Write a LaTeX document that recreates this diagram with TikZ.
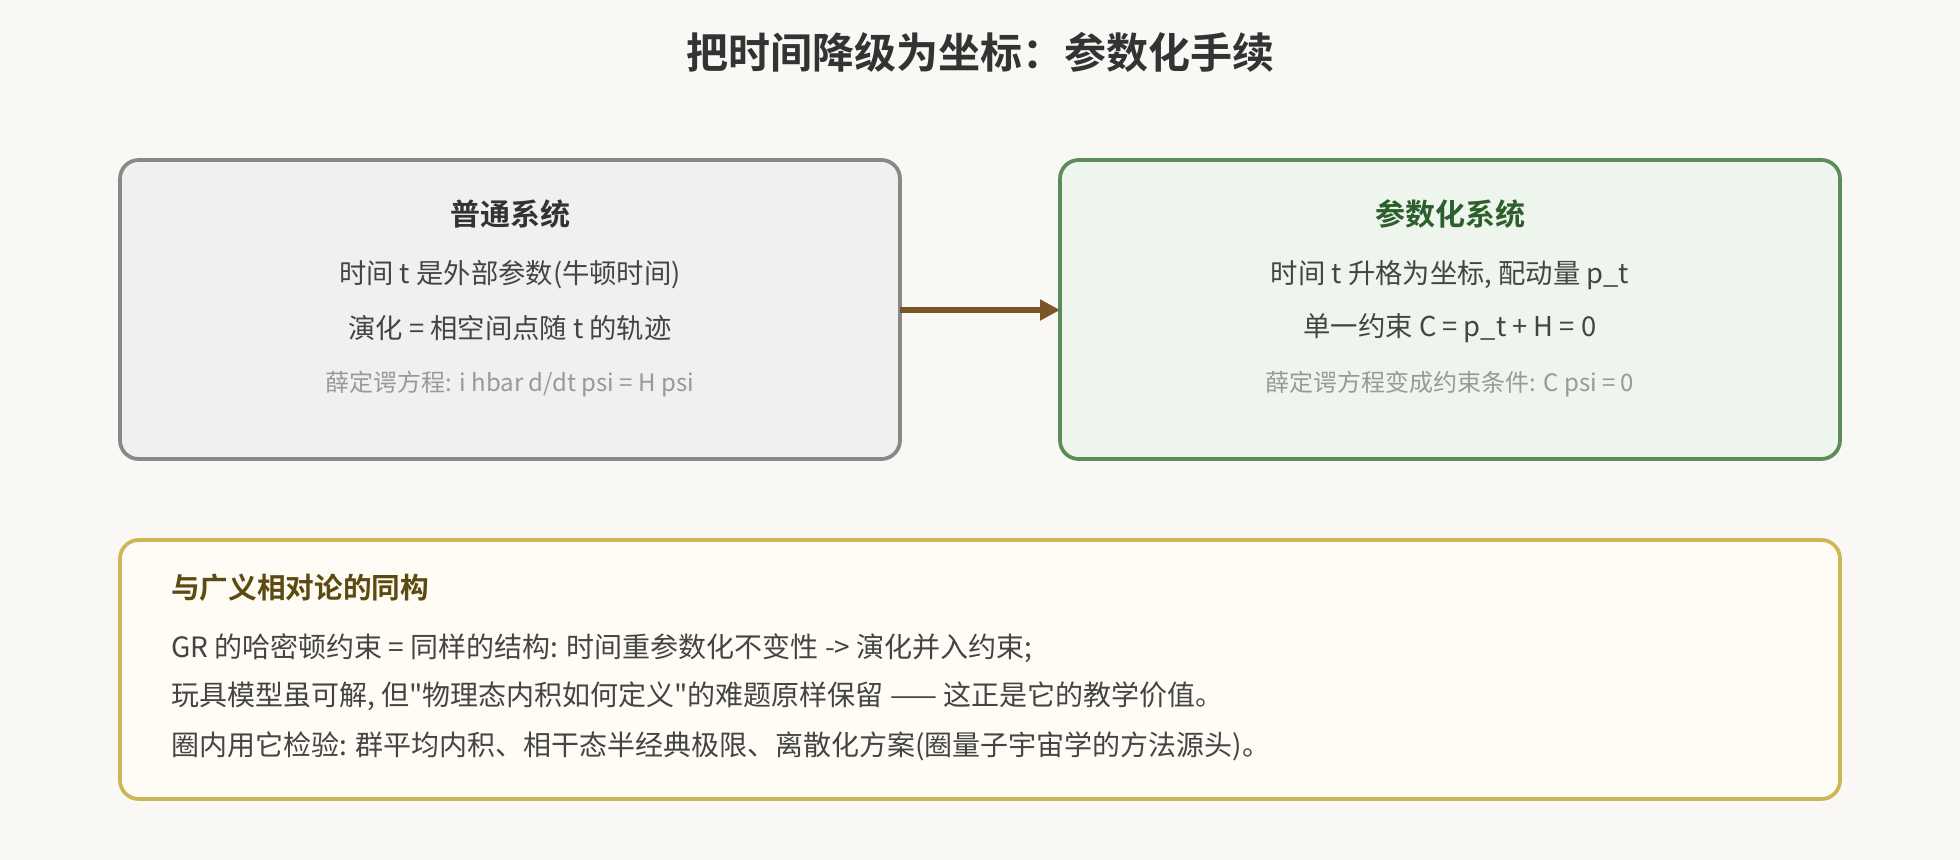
\documentclass[tikz,border=0pt]{standalone}
\usepackage{fontspec}
\setmainfont{Noto Sans CJK SC}[BoldFont={Noto Sans CJK SC Bold},Ligatures=TeXOff]
\usetikzlibrary{arrows.meta}
\definecolor{bgc}{HTML}{F9F8F4}
\definecolor{leftfill}{HTML}{F0F0F0}
\definecolor{leftdraw}{HTML}{888888}
\definecolor{rightfill}{HTML}{EEF5EC}
\definecolor{rightdraw}{HTML}{5B8C5A}
\definecolor{botfill}{HTML}{FEFCF4}
\definecolor{botdraw}{HTML}{CDB65A}
\definecolor{arrowc}{HTML}{7A5528}
\definecolor{titlec}{HTML}{333333}
\definecolor{bodyc}{HTML}{444444}
\definecolor{grayc}{HTML}{999999}
\definecolor{greent}{HTML}{2D5F2D}
\definecolor{brownt}{HTML}{5C4A10}
\tikzset{
  panel/.style={rounded corners=14pt, line width=2.8pt, inner sep=0pt},
  maintitle/.style={font=\fontsize{31.5}{38}\selectfont\bfseries, text=titlec, inner sep=0pt},
  boxtitle/.style={font=\fontsize{22.5}{27}\selectfont\bfseries, inner sep=0pt},
  bodytext/.style={font=\fontsize{20.5}{25}\selectfont, text=bodyc, inner sep=0pt},
  graytext/.style={font=\fontsize{18}{22}\selectfont, text=grayc, inner sep=0pt},
  bottitle/.style={font=\fontsize{21.5}{26}\selectfont\bfseries, text=brownt, inner sep=0pt, anchor=west},
  botbody/.style={font=\fontsize{21}{25}\selectfont, text=bodyc, inner sep=0pt, anchor=west},
  flow/.style={line width=4.5pt, draw=arrowc, -{Triangle[length=15pt,width=15pt]}}
}
\begin{document}
\begin{tikzpicture}[x=0.75pt,y=-0.75pt]
\fill[bgc] (0,0) rectangle (1960,860);
\useasboundingbox (0,0) rectangle (1960,860);
\node[maintitle] (title) at (980,52) {把时间降级为坐标：参数化手续};
% left panel
\draw[panel, fill=leftfill, draw=leftdraw] (120,160) rectangle (900,459);
\coordinate (lE) at (900,310);
\node[boxtitle, text=titlec] (lt) at (510,214) {普通系统};
\node[bodytext] (l1) at (510,275) {时间 t 是外部参数(牛顿时间)};
\node[bodytext] (l2) at (510,328) {演化 = 相空间点随 t 的轨迹};
\node[graytext] (l3) at (510,384) {薛定谔方程: i hbar d/dt psi = H psi};
% right panel
\draw[panel, fill=rightfill, draw=rightdraw] (1060,160) rectangle (1840,459);
\coordinate (rW) at (1060,310);
\node[boxtitle, text=greent] (rt) at (1450,214) {参数化系统};
\node[bodytext] (r1) at (1450,275) {时间 t 升格为坐标, 配动量 p\_t};
\node[bodytext] (r2) at (1450,328) {单一约束 C = p\_t + H = 0};
\node[graytext] (r3) at (1450,384) {薛定谔方程变成约束条件: C psi = 0};
% arrow
\draw[flow] (lE) -- (rW);
% bottom panel
\draw[panel, fill=botfill, draw=botdraw] (120,540) rectangle (1840,799);
\node[bottitle] (bt) at (171,588) {与广义相对论的同构};
\node[botbody] (b1) at (171,648) {GR 的哈密顿约束 = 同样的结构: 时间重参数化不变性 -> 演化并入约束;};
\node[botbody] (b2) at (171,696) {玩具模型虽可解, 但"物理态内积如何定义"的难题原样保留 —— 这正是它的教学价值。};
\node[botbody] (b3) at (171,746) {圈内用它检验: 群平均内积、相干态半经典极限、离散化方案(圈量子宇宙学的方法源头)。};
\end{tikzpicture}
\end{document}
